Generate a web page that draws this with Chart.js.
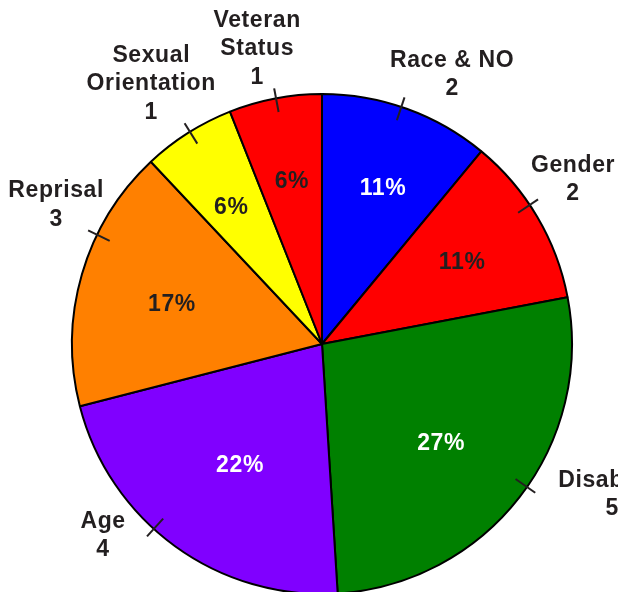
<!DOCTYPE html>
<html>
<head>
<meta charset="utf-8">
<script src="https://cdn.jsdelivr.net/npm/chart.js@4/dist/chart.umd.min.js"></script>
<style>
  html, body { margin: 0; padding: 0; background: #fff; overflow: hidden; }
  #wrap { position: relative; width: 618px; height: 592px; }
</style>
</head>
<body>
<div id="wrap"><canvas id="chartPie" width="618" height="592"></canvas></div>
<script>
// categories (split in lines the way they are printed)
var categories = [['Race & NO'], ['Gender'], ['Disability'], ['Age'], ['Reprisal'], ['Sexual', 'Orientation'], ['Veteran', 'Status']];
// number of cases per basis
var counts = [2, 2, 5, 4, 3, 1, 1];
// share in percent, this is what the slices are drawn from
var percents = [11, 11, 27, 22, 17, 6, 6];

var colors = ['#0000ff', '#ff0000', '#008000', '#8000ff', '#ff8000', '#ffff00', '#ff0000'];
var pctColors = ['#ffffff', '#231f20', '#ffffff', '#ffffff', '#231f20', '#231f20', '#231f20'];
var textColor = '#231f20';

// where the labels / ticks sit, relative to the slice middle (degrees, px)
var labelShift = [6, -2.6, -10.4, 12.8, 11.4, -0.9, -1.6];
var labelDist = [299, 300, 327, 291, 300, 311, 302];
var tickShift = [-1.3, -3.2, -2.9, 6.3, 9.7, 0.5, 0.2];
var pctShift = [1.6, 0.5, 2, -2.1, -1.6, -1.2, 0.3];
var pctDist = [167, 162, 155, 147, 155, 164, 165];

var sliceLabels = {
    id: 'sliceLabels',
    afterDatasetsDraw: function (chart) {
        var ctx = chart.ctx;
        var meta = chart.getDatasetMeta(0);
        var deg = Math.PI / 180;
        ctx.save();
        ctx.font = 'bold 23px "Liberation Sans", Arial, Helvetica, sans-serif';
        ctx.letterSpacing = '0.6px';
        ctx.textAlign = 'center';
        ctx.textBaseline = 'middle';
        meta.data.forEach(function (arc, i) {
            var p = arc.getProps(['x', 'y', 'startAngle', 'endAngle', 'outerRadius'], true);
            var mid = (p.startAngle + p.endAngle) / 2;
            var r = p.outerRadius;

            // percent inside
            var pa = mid + pctShift[i] * deg;
            ctx.fillStyle = pctColors[i];
            ctx.fillText(percents[i] + '%', p.x + Math.cos(pa) * pctDist[i], p.y + Math.sin(pa) * pctDist[i]);

            // tick across the rim
            var ta = mid + tickShift[i] * deg;
            ctx.strokeStyle = textColor;
            ctx.lineWidth = 2;
            ctx.beginPath();
            ctx.moveTo(p.x + Math.cos(ta) * (r - 14), p.y + Math.sin(ta) * (r - 14));
            ctx.lineTo(p.x + Math.cos(ta) * (r + 10), p.y + Math.sin(ta) * (r + 10));
            ctx.stroke();

            // name + count outside
            var la = mid + labelShift[i] * deg;
            var lx = p.x + Math.cos(la) * labelDist[i];
            var ly = p.y + Math.sin(la) * labelDist[i];
            var lines = categories[i].concat([String(counts[i])]);
            var lh = 28.5;
            var y0 = ly - (lines.length - 1) * lh / 2;
            ctx.fillStyle = textColor;
            for (var k = 0; k < lines.length; k++) {
                ctx.fillText(lines[k], lx, y0 + k * lh);
            }
        });
        ctx.restore();
    }
};

var ctx = document.getElementById('chartPie');
var myPie = new Chart(ctx, {
    type: 'pie',
    data: {
        labels: categories,
        datasets: [{
            data: percents,
            backgroundColor: colors,
            borderColor: '#000000',
            borderWidth: 2,
            clip: false
        }]
    },
    options: {
        responsive: false,
        animation: false,
        radius: 250,
        layout: {
            padding: { left: 26, right: 0, top: 96, bottom: 0 }
        },
        plugins: {
            legend: { display: false },
            tooltip: { enabled: false }
        }
    },
    plugins: [sliceLabels]
});
</script>
</body>
</html>
